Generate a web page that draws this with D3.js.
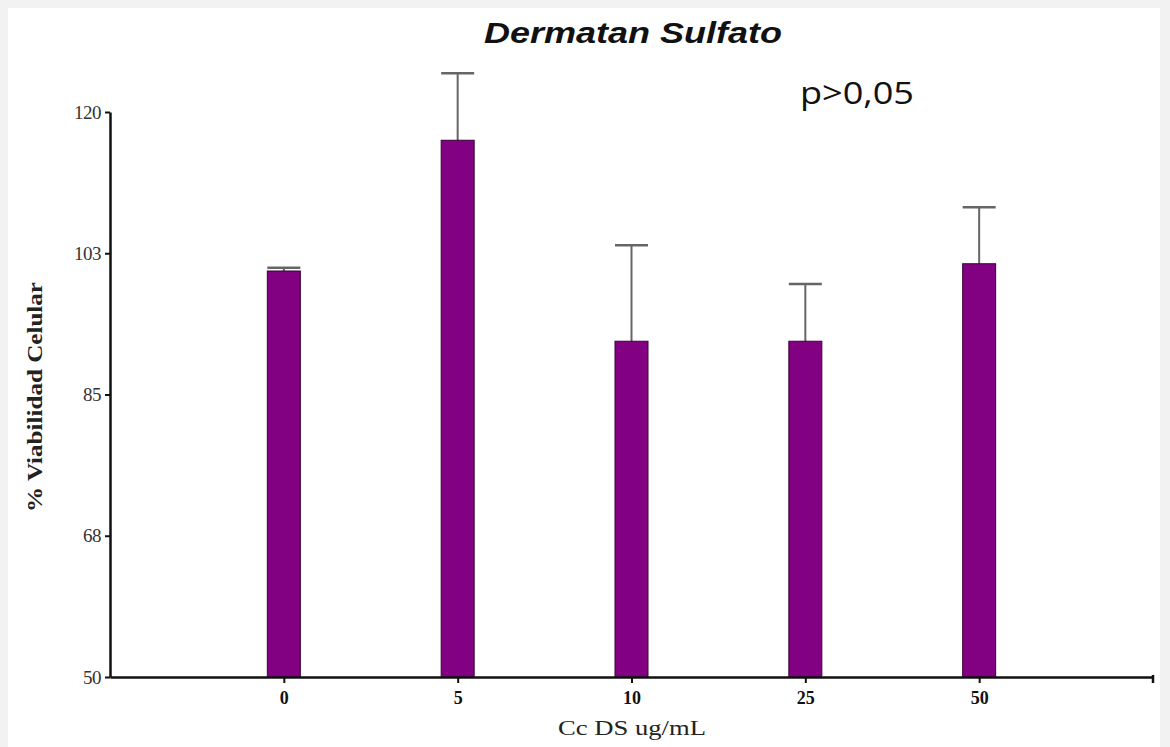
<!DOCTYPE html>
<html>
<head>
<meta charset="utf-8">
<script src="https://cdn.jsdelivr.net/npm/d3@7"></script>
<style>
  body { margin: 0; background: #f2f2f2; }
  svg { display: block; }
  .yAxisG text { font-family: "Liberation Serif", serif; font-size: 19px; fill: #333; letter-spacing: -0.5px; }
  .xAxisG text { font-family: "Liberation Serif", serif; font-size: 18px; font-weight: bold; fill: #111; }
</style>
</head>
<body>
<svg id="chart" width="1170" height="747"></svg>
<script>
// concentrations of DS (ug/mL)
const categories = ['0', '5', '10', '25', '50']
const viability = [100.3, 116.5, 91.6, 91.6, 101.2]
const errors = [0.4, 8.3, 11.9, 7.1, 7.0]
const yTicks = [50, 67.5, 85, 102.5, 120]
const yTickLabels = ['50', '68', '85', '103', '120']

const width = 1170
const height = 747
const margin = { top: 112, right: 17, bottom: 70, left: 110 }

const svg = d3.select('#chart')

// white page with grey edge like the screenshot
svg.append('rect')
    .attr('x', 8).attr('y', 8)
    .attr('width', 1152).attr('height', height - 8)
    .attr('fill', '#fff')

const xScale = d3.scalePoint()
    .domain(categories)
    .range([margin.left, width - margin.right])
    .padding(1)

const yScale = d3.scaleLinear()
    .domain([50, 120])
    .range([height - margin.bottom, margin.top])

const barW = 33

// error bars (upper only)
const errG = svg.append('g')
categories.forEach((c, i) => {
    const x = xScale(c)
    const yTop = yScale(viability[i] + errors[i])
    errG.append('line')
        .attr('x1', x).attr('x2', x)
        .attr('y1', yScale(viability[i])).attr('y2', yTop)
        .attr('stroke', '#666').attr('stroke-width', 2)
    errG.append('line')
        .attr('x1', x - barW / 2).attr('x2', x + barW / 2)
        .attr('y1', yTop).attr('y2', yTop)
        .attr('stroke', '#666').attr('stroke-width', 2.5)
})

svg.selectAll('.bar')
    .data(viability)
    .enter()
    .append('rect')
    .attr('class', 'bar')
    .attr('x', (d, i) => xScale(categories[i]) - barW / 2)
    .attr('y', d => yScale(d))
    .attr('width', barW)
    .attr('height', d => yScale(50) - yScale(d))
    .attr('fill', '#820082')
    .attr('stroke', '#3a003a')
    .attr('stroke-width', 1)

// axes
const yAxisG = svg.append('g')
    .attr('class', 'yAxisG')
    .attr('transform', `translate(${margin.left}, 0)`)
    .call(d3.axisLeft(yScale)
        .tickValues(yTicks)
        .tickFormat((d, i) => yTickLabels[i])
        .tickSize(5)
        .tickSizeOuter(0)
        .tickPadding(4))
yAxisG.select('.domain').attr('stroke', '#111').attr('stroke-width', 2.5)
yAxisG.selectAll('.tick line').attr('stroke', '#111').attr('stroke-width', 2)

const xAxisG = svg.append('g')
    .attr('class', 'xAxisG')
    .attr('transform', `translate(0, ${height - margin.bottom})`)
    .call(d3.axisBottom(xScale).tickSize(6).tickSizeOuter(0).tickPadding(8))
xAxisG.select('.domain').attr('stroke', '#111').attr('stroke-width', 2.5)
xAxisG.selectAll('.tick line').attr('stroke', '#111').attr('stroke-width', 2)
// right end tick
xAxisG.append('line')
    .attr('x1', width - margin.right).attr('x2', width - margin.right)
    .attr('y1', -2).attr('y2', 6)
    .attr('stroke', '#111').attr('stroke-width', 2.5)

// titles
svg.append('text')
    .attr('x', 484).attr('y', 43)
    .attr('textLength', 298)
    .attr('lengthAdjust', 'spacingAndGlyphs')
    .style('font-family', '"Liberation Sans", Arial, sans-serif')
    .style('font-size', '30px')
    .style('font-weight', 'bold')
    .style('font-style', 'italic')
    .attr('fill', '#111')
    .text('Dermatan Sulfato')

svg.append('text')
    .attr('x', 800).attr('y', 104)
    .attr('textLength', 114)
    .attr('lengthAdjust', 'spacingAndGlyphs')
    .style('font-family', '"Open Sans", sans-serif')
    .style('font-size', '31px')
    .attr('fill', '#111')
    .text('p>0,05')

svg.append('text')
    .attr('transform', 'translate(42, 397) rotate(-90)')
    .attr('text-anchor', 'middle')
    .attr('textLength', 230)
    .attr('lengthAdjust', 'spacingAndGlyphs')
    .style('font-family', '"Liberation Serif", serif')
    .style('font-size', '21px')
    .style('font-weight', 'bold')
    .attr('fill', '#222')
    .text('% Viabilidad Celular')

svg.append('text')
    .attr('x', 632).attr('y', 735)
    .attr('text-anchor', 'middle')
    .attr('textLength', 148)
    .attr('lengthAdjust', 'spacingAndGlyphs')
    .style('font-family', '"Liberation Serif", serif')
    .style('font-size', '21px')
    .attr('fill', '#222')
    .text('Cc DS ug/mL')
</script>
</body>
</html>
